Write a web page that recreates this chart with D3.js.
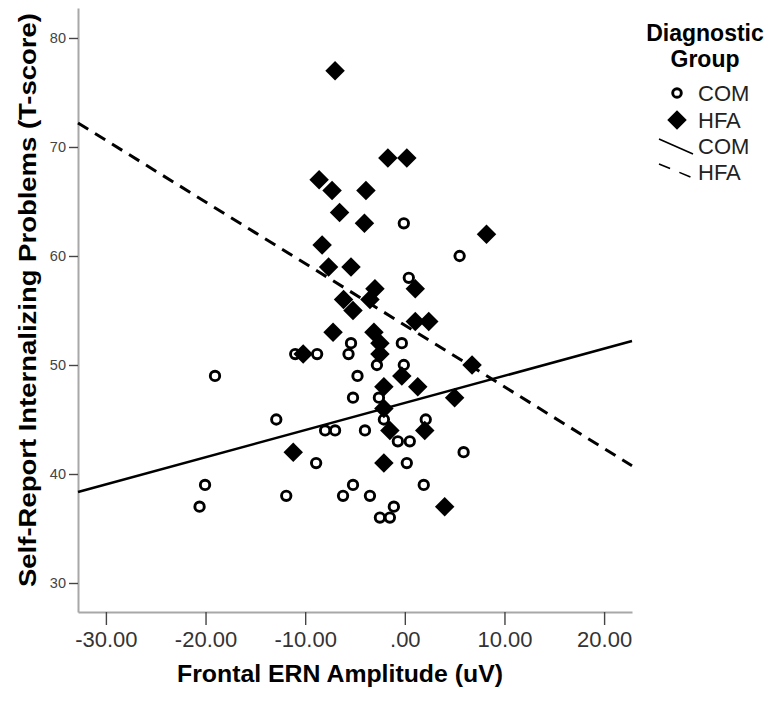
<!DOCTYPE html>
<html>
<head>
<meta charset="utf-8">
<script src="https://cdn.jsdelivr.net/npm/d3@7"></script>
<style>
  body { margin: 0; background: #fff; }
  svg { display: block; font-family: "Liberation Sans", Arial, sans-serif; }
</style>
</head>
<body>
<svg></svg>
<script>
const width = 775;
const height = 701;
const svg = d3.select("svg").attr("width", width).attr("height", height);

// COM group (open circles): [ERN amplitude, T-score]
const comPoints = [
  [-0.1, 63], [5.5, 60], [0.4, 58], [-5.4, 52], [-0.3, 52],
  [-11.0, 51], [-8.8, 51], [-5.65, 51], [-2.8, 50], [-0.1, 50],
  [-19.05, 49], [-4.75, 49], [-5.2, 47], [-2.6, 47], [-12.9, 45],
  [-2.1, 45], [2.1, 45], [-8.0, 44], [-7.0, 44], [-4.0, 44],
  [-0.7, 43], [0.5, 43], [5.9, 42], [-8.9, 41], [0.2, 41],
  [-20.05, 39], [-5.2, 39], [1.9, 39], [-11.9, 38], [-6.2, 38],
  [-3.5, 38], [-20.6, 37], [-1.1, 37], [-2.5, 36], [-1.5, 36]
];
// HFA group (filled diamonds)
const hfaPoints = [
  [-7.0, 77], [-1.7, 69], [0.2, 69], [-8.6, 67], [-7.3, 66],
  [-3.9, 66], [-6.55, 64], [-4.05, 63], [8.2, 62], [-8.3, 61],
  [-7.65, 59], [-5.4, 59], [-3.0, 57], [1.05, 57], [-3.5, 56],
  [-6.15, 56], [-5.2, 55], [1.05, 54], [2.4, 54], [-7.2, 53],
  [-3.1, 53], [-2.5, 52], [-2.5, 51], [-10.2, 51], [6.75, 50],
  [-0.3, 49], [1.3, 48], [-2.1, 48], [-2.1, 46], [5.0, 47],
  [-1.5, 44], [2.0, 44], [-11.2, 42], [-2.1, 41], [4.0, 37]
];
// fit lines, end points read at the plot edges
const comFit = [[-32.8, 38.35], [22.8, 52.2]];
const hfaFit = [[-32.8, 72.2], [22.8, 40.76]];

const xTicks = [-30, -20, -10, 0, 10, 20];
const yTicks = [30, 40, 50, 60, 70, 80];
const groups = ["COM", "HFA"];

const x = d3.scaleLinear().domain([-32.8, 22.8]).range([78, 632]);
const y = d3.scaleLinear().domain([27.34, 82.75]).range([612, 8]);

// axes
const gy = svg.append("g")
  .attr("transform", "translate(78,0)")
  .call(d3.axisLeft(y).tickValues(yTicks).tickSize(9).tickSizeOuter(0).tickPadding(3)
    .tickFormat(d3.format("d")));
gy.select(".domain").attr("stroke", "#a8a8a8").attr("stroke-width", 2);
gy.selectAll(".tick line").attr("stroke", "#444").attr("stroke-width", 1.4);
gy.selectAll(".tick text").attr("fill", "#444").style("font-size", "14.5px");

const gx = svg.append("g")
  .attr("transform", "translate(0,612)")
  .call(d3.axisBottom(x).tickValues(xTicks).tickSize(13).tickSizeOuter(0).tickPadding(6)
    .tickFormat(d => d === 0 ? ".00" : d.toFixed(2)));
gx.select(".domain").attr("stroke", "#a8a8a8").attr("stroke-width", 2);
gx.selectAll(".tick line").attr("stroke", "#444").attr("stroke-width", 1.4);
gx.selectAll(".tick text").attr("fill", "#333").style("font-size", "22px");

// axis titles
svg.append("text")
  .attr("x", 340).attr("y", 682)
  .attr("text-anchor", "middle")
  .attr("textLength", 326).attr("lengthAdjust", "spacingAndGlyphs")
  .style("font-size", "24px").style("font-weight", "bold")
  .text("Frontal ERN Amplitude (uV)");

svg.append("text")
  .attr("transform", "translate(36,300) rotate(-90)")
  .attr("text-anchor", "middle")
  .attr("textLength", 574).attr("lengthAdjust", "spacingAndGlyphs")
  .style("font-size", "23px").style("font-weight", "bold")
  .text("Self-Report Internalizing Problems (T-score)");

// fit lines
const line = d3.line().x(d => x(d[0])).y(d => y(d[1]));
svg.append("path").attr("d", line(comFit))
  .attr("fill", "none").attr("stroke", "#000").attr("stroke-width", 2.6);
svg.append("path").attr("d", line(hfaFit))
  .attr("fill", "none").attr("stroke", "#000").attr("stroke-width", 3)
  .attr("stroke-dasharray", "12,8");

// points
const diamond = d3.symbol().type(d3.symbolSquare).size(190);
svg.append("g").selectAll("path").data(hfaPoints).join("path")
  .attr("d", diamond)
  .attr("transform", d => `translate(${x(d[0])},${y(d[1])}) rotate(45)`)
  .attr("fill", "#000");

svg.append("g").selectAll("circle").data(comPoints).join("circle")
  .attr("cx", d => x(d[0]))
  .attr("cy", d => y(d[1]))
  .attr("r", 4.7)
  .attr("fill", "none")
  .attr("stroke", "#000")
  .attr("stroke-width", 2.9);

// legend
const leg = svg.append("g");
leg.append("text").attr("x", 705).attr("y", 41).attr("text-anchor", "middle")
  .style("font-size", "23px").style("font-weight", "bold").text("Diagnostic");
leg.append("text").attr("x", 705).attr("y", 67).attr("text-anchor", "middle")
  .style("font-size", "23px").style("font-weight", "bold").text("Group");

leg.append("circle").attr("cx", 677).attr("cy", 93).attr("r", 4.3)
  .attr("fill", "none").attr("stroke", "#000").attr("stroke-width", 2.9);
leg.append("path").attr("d", diamond)
  .attr("transform", "translate(677,120) rotate(45)").attr("fill", "#000");
leg.append("line").attr("x1", 659).attr("y1", 139).attr("x2", 693).attr("y2", 154)
  .attr("stroke", "#000").attr("stroke-width", 1.6);
leg.append("line").attr("x1", 659).attr("y1", 164).attr("x2", 693).attr("y2", 178)
  .attr("stroke", "#000").attr("stroke-width", 1.6).attr("stroke-dasharray", "12,10");

const legY = [101, 128, 154, 180];
const legLabels = [groups[0], groups[1], groups[0], groups[1]];
leg.selectAll(".lab").data(legLabels).join("text")
  .attr("class", "lab")
  .attr("x", 698).attr("y", (d, i) => legY[i])
  .attr("fill", "#222")
  .style("font-size", "22px")
  .text(d => d);
</script>
</body>
</html>
